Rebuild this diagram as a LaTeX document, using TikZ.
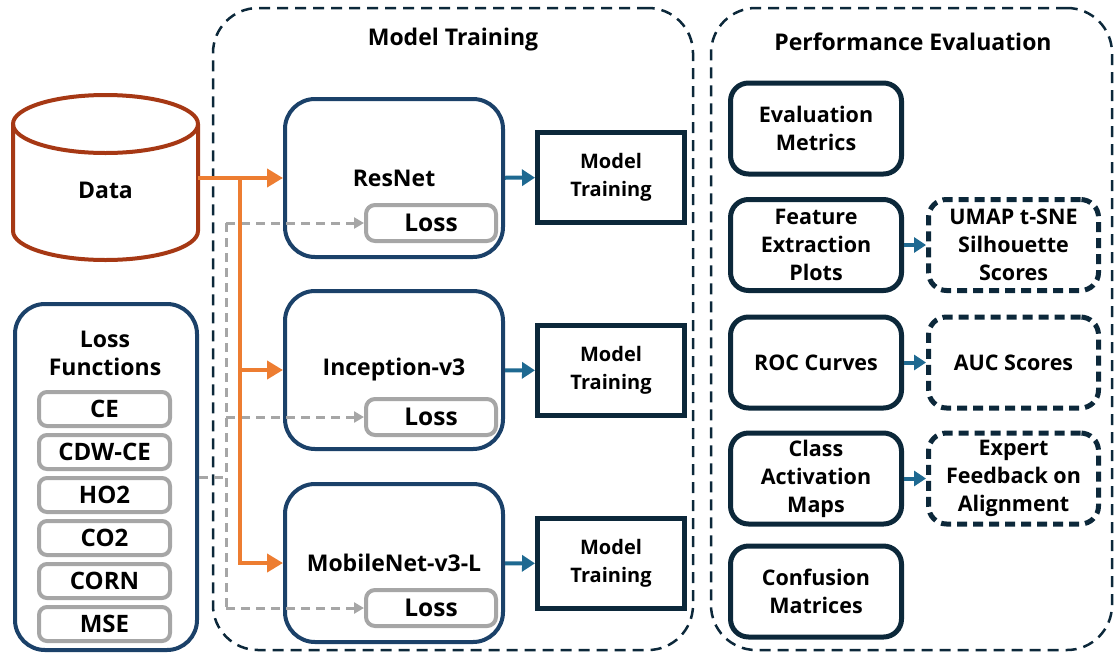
\documentclass[tikz,border=0pt]{standalone}
\usepackage{fontspec}
\setmainfont{Open Sans}
\usetikzlibrary{arrows.meta,positioning}
\definecolor{datared}{RGB}{166,56,20}
\definecolor{flow}{RGB}{237,125,49}
\definecolor{netblue}{RGB}{27,65,105}
\definecolor{navy}{RGB}{12,40,58}
\definecolor{passteal}{RGB}{30,105,145}
\definecolor{lossgray}{RGB}{166,166,166}

\begin{document}
\begin{tikzpicture}[x=1pt,y=-1pt,
    font=\bfseries\fontsize{23}{28}\selectfont,
    netbox/.style={draw=netblue, line width=4pt, rounded corners=30pt, minimum width=218pt, minimum height=158pt},
    lossbox/.style={draw=lossgray, line width=4pt, rounded corners=9pt, minimum width=130pt, minimum height=36pt, fill=white, font=\bfseries\fontsize{24.5}{28}\selectfont},
    trainbox/.style={draw=navy, line width=5pt, minimum width=147pt, minimum height=90pt, align=center, font=\bfseries\fontsize{20}{28}\selectfont},
    evalbox/.style={draw=navy, line width=5pt, rounded corners=18pt, minimum width=171pt, minimum height=91pt, align=center, font=\bfseries\fontsize{21.5}{28}\selectfont},
    resultbox/.style={evalbox, minimum width=170pt, dash pattern=on 10pt off 6pt},
    lfitem/.style={draw=lossgray, line width=4pt, rounded corners=8pt, minimum width=131pt, minimum height=34pt, font=\bfseries\fontsize{24}{28}\selectfont},
    group/.style={draw=navy, line width=2.5pt, rounded corners=45pt, dash pattern=on 11pt off 7pt},
    feed/.style={draw=flow, line width=4pt, -{Triangle[length=16pt,width=18pt]}},
    pass/.style={draw=passteal, line width=4pt, -{Triangle[length=13pt,width=16pt]}},
    lossline/.style={draw=lossgray, line width=3pt, dash pattern=on 9pt off 6pt},
    lossflow/.style={lossline, -{Triangle[length=10pt,width=11pt]}}
]
    \useasboundingbox (0,0) rectangle (1115,654);
    % Groups
    \node[group, minimum width=480pt, minimum height=642pt] (mtgroup) at (453,329) {};
    \node[group, minimum width=401pt, minimum height=642pt] (pegroup) at (911.5,329) {};
    \node (mttitle) at (453,40) {Model Training};
    \node (petitle) at (913,42) {Performance Evaluation};
    % Data
    \draw[datared, line width=4pt, fill=white] (13,124) -- (13,231)
        arc[start angle=180, end angle=0, x radius=92.5, y radius=29] -- (198,124);
    \draw[datared, line width=4pt] (105.5,124) ellipse [x radius=92.5, y radius=29];
    \node[minimum width=185pt] (data) at (105.5,190) {Data};
    % Loss functions
    \node[draw=netblue, line width=4pt, rounded corners=30pt, minimum width=182pt, minimum height=346pt] (lossfn) at (106,477) {};
    \node[align=center] (lftitle) at (105,353) {Loss\\Functions};
    \foreach \name [count=\i from 0] in {CE,CDW-CE,HO2,CO2,CORN,MSE}
      \node[lfitem] (lf\i) at (104.5,409+43*\i) {\name};
    % Networks
    \node[netbox] (resnet) at (394,178) {ResNet};
    \node[netbox] (incep) at (394,370) {Inception-v3};
    \node[netbox] (mobile) at (394,563) {MobileNet-v3-L};
    \node[lossbox] (loss1) at (431,223) {Loss};
    \node[lossbox] (loss2) at (431,417) {Loss};
    \node[lossbox] (loss3) at (431,608) {Loss};
    \node[trainbox] (train1) at (611,177.5) {Model\\Training};
    \node[trainbox] (train2) at (611,370.5) {Model\\Training};
    \node[trainbox] (train3) at (611,563.5) {Model\\Training};
    % Evaluation
    \node[evalbox] (metrics) at (816,128.5) {Evaluation\\Metrics};
    \node[evalbox] (feat) at (816,245) {Feature\\Extraction\\Plots};
    \node[evalbox] (roc) at (816,362.5) {ROC Curves};
    \node[evalbox] (cam) at (816,478.5) {Class\\Activation\\Maps};
    \node[evalbox] (confus) at (816,591.5) {Confusion\\Matrices};
    \node[resultbox] (umap) at (1013.5,245) {UMAP t-SNE\\Silhouette\\Scores};
    \node[resultbox] (auc) at (1013.5,362.5) {AUC Scores};
    \node[resultbox] (expert) at (1013.5,478.5) {Expert\\Feedback on\\Alignment};
    % Loss wiring
    \coordinate (lossjoin) at (226,477);
    \draw[lossline] (lossfn.east) -- (lossjoin);
    \draw[lossline] (loss1.west -| lossjoin) -- (loss3.west -| lossjoin);
    \foreach \i in {1,2,3}
      \draw[lossflow] (loss\i.west -| lossjoin) -- (loss\i.west);
    % Data feed
    \coordinate (split) at (240,178);
    \draw[feed] (data.east |- resnet.west) -- (resnet.west);
    \draw[feed] (split) |- (incep.west);
    \draw[feed] (split) |- (mobile.west);
    % Training and evaluation arrows
    \draw[pass] (resnet) -- (train1);
    \draw[pass] (incep) -- (train2);
    \draw[pass] (mobile) -- (train3);
    \draw[pass, -{Triangle[length=12pt,width=15pt]}] (feat) -- (umap);
    \draw[pass, -{Triangle[length=12pt,width=15pt]}] (roc) -- (auc);
    \draw[pass, -{Triangle[length=12pt,width=15pt]}] (cam) -- (expert);
\end{tikzpicture}
\end{document}
